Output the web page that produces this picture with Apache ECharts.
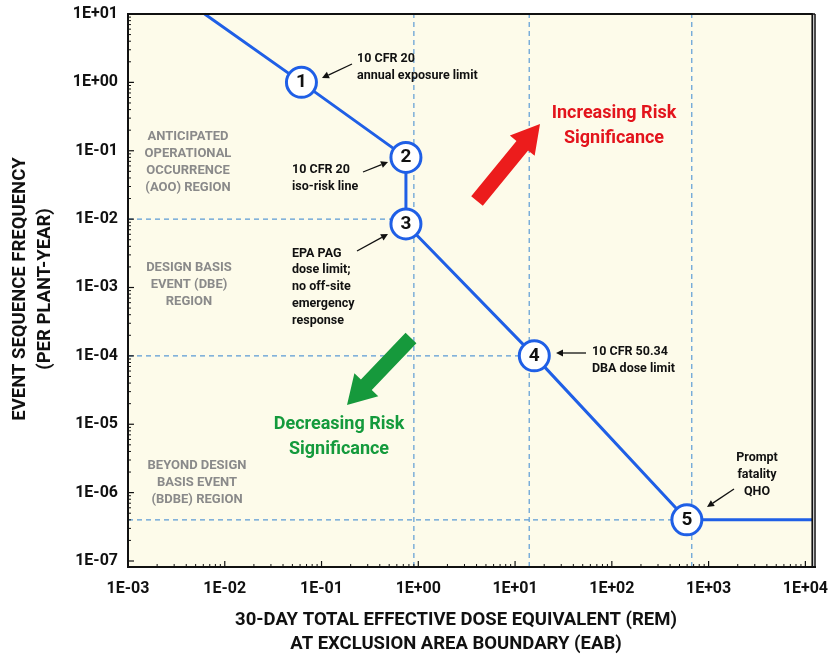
<!DOCTYPE html>
<html><head><meta charset="utf-8">
<script src="https://cdn.jsdelivr.net/npm/echarts@6/dist/echarts.min.js"></script>
<style>html,body{margin:0;padding:0;background:#fff}#c{width:831px;height:659px}</style>
</head><body><div id="c"></div>
<script>
// ---- data ----
const xTickValues = [1e-3, 1e-2, 1e-1, 1e0, 1e1, 1e2, 1e3, 1e4];
const xTickLabels = ['1E-03', '1E-02', '1E-01', '1E+00', '1E+01', '1E+02', '1E+03', '1E+04'];
const yTickValues = [1e-7, 1e-6, 1e-5, 1e-4, 1e-3, 1e-2, 1e-1, 1e0, 1e1];
const yTickLabels = ['1E-07', '1E-06', '1E-05', '1E-04', '1E-03', '1E-02', '1E-01', '1E+00', '1E+01'];
const curveX = [0.0062, 0.062, 0.745, 0.745, 15.8, 596, 11800];
const curveY = [10, 1, 0.08, 0.0085, 1e-4, 4e-7, 4e-7];
const pointNames = ['1', '2', '3', '4', '5'];
const pointX = [0.062, 0.745, 0.745, 15.8, 596];
const pointY = [1, 0.08, 0.0085, 1e-4, 4e-7];
const vGuideX = [0.9, 14, 670];
const hGuideY = [0.01, 1e-4, 4e-7];
const hGuideEndX = [0.745, 15.8, 596];

function minorValues(lo, hi) {
  const out = [];
  for (let e = lo; e < hi; e++) for (let m = 2; m <= 9; m++) out.push(m * Math.pow(10, e));
  return out;
}
const xMinor = minorValues(-3, 4);
const yMinor = minorValues(-7, 1);

const blue = '#1f5fe6';
const guideColor = '#5b9bd5';
const ink = '#111111';
const FONT = 'Roboto, "Liberation Sans", sans-serif';
const X_MIN = 1e-3, X_MAX = 11800, Y_MIN = 8.17e-8, Y_MAX = 10;
const X_PX_DEC = 97.14, Y_PX_DEC = 68.37;

const series = [];
vGuideX.forEach(x => series.push({
  type: 'line', data: [[x, Y_MIN], [x, Y_MAX]], symbol: 'none', silent: true, z: 1,
  lineStyle: { color: guideColor, width: 1.2, type: [5, 4] }
}));
hGuideY.forEach((y, i) => series.push({
  type: 'line', data: [[X_MIN, y], [hGuideEndX[i], y]], symbol: 'none', silent: true, z: 1,
  lineStyle: { color: guideColor, width: 1.2, type: [5, 4] }
}));
series.push({
  type: 'line', data: curveX.map((x, i) => [x, curveY[i]]), symbol: 'none', z: 3,
  lineStyle: { color: blue, width: 3 }
});
series.push({
  type: 'scatter', data: pointX.map((x, i) => ({ value: [x, pointY[i]], name: pointNames[i] })),
  symbol: 'circle', symbolSize: 30, z: 5,
  itemStyle: { color: '#ffffff', borderColor: blue, borderWidth: 3, opacity: 1 },
  label: { show: true, position: 'inside', formatter: p => p.name, color: ink, fontSize: 19, fontWeight: 'bold', fontFamily: FONT }
});
series.push({
  type: 'line', symbol: 'none', clip: false, z: 4,
  data: [[X_MIN, Y_MIN], [X_MAX, Y_MIN], [X_MAX, Y_MAX], [X_MIN, Y_MAX], [X_MIN, Y_MIN]],
  lineStyle: { color: ink, width: 1.8, type: 'solid' }
});
function tickLine(data, width) {
  return { type: 'line', symbol: 'none', clip: false, z: 4, data, lineStyle: { color: ink, width, type: 'solid' } };
}
xTickValues.forEach(v => series.push(tickLine([[v, Y_MIN], [v, Y_MIN * Math.pow(10, 6 / Y_PX_DEC)]], 1.2)));
xMinor.forEach(v => series.push(tickLine([[v, Y_MIN], [v, Y_MIN * Math.pow(10, 3 / Y_PX_DEC)]], 1)));
yTickValues.forEach(v => series.push(tickLine([[X_MIN, v], [X_MIN * Math.pow(10, 6 / X_PX_DEC), v]], 1.2)));
yMinor.forEach(v => series.push(tickLine([[X_MIN, v], [X_MIN * Math.pow(10, 3 / X_PX_DEC), v]], 1)));

function arrowLine(x1, y1, x2, y2, color) {
  const ang = Math.atan2(y2 - y1, x2 - x1);
  const hl = 7, hw = 3.5;
  const bx = x2 - hl * Math.cos(ang), by = y2 - hl * Math.sin(ang);
  const px = -Math.sin(ang) * hw, py = Math.cos(ang) * hw;
  return [
    { type: 'line', z: 50, shape: { x1, y1, x2: bx, y2: by }, style: { stroke: color, lineWidth: 1.3 } },
    { type: 'polygon', z: 50, shape: { points: [[x2, y2], [bx + px, by + py], [bx - px, by - py]] }, style: { fill: color } }
  ];
}
function fatArrow(x1, y1, x2, y2, sw, hw, hl, color) {
  const ang = Math.atan2(y2 - y1, x2 - x1);
  const c = Math.cos(ang), s = Math.sin(ang);
  const nx = -s, ny = c;
  const bx = x2 - hl * c, by = y2 - hl * s;
  const pts = [
    [x1 + nx * sw / 2, y1 + ny * sw / 2],
    [bx + nx * sw / 2, by + ny * sw / 2],
    [bx + nx * hw / 2, by + ny * hw / 2],
    [x2, y2],
    [bx - nx * hw / 2, by - ny * hw / 2],
    [bx - nx * sw / 2, by - ny * sw / 2],
    [x1 - nx * sw / 2, y1 - ny * sw / 2]
  ];
  return { type: 'polygon', z: 40, shape: { points: pts }, style: { fill: color } };
}
function txt(text, x, y, opt) {
  return {
    type: 'text', x, y, z: 60, rotation: opt.rot || 0,
    style: {
      text, fill: opt.color || ink, font: (opt.weight || 'bold') + ' ' + opt.size + 'px ' + FONT,
      textAlign: opt.align || 'left', textVerticalAlign: 'middle', lineHeight: opt.lh || opt.size * 1.3
    }
  };
}
function frameLine(x1, y1, x2, y2, w) {
  return { type: 'line', z: 50, shape: { x1, y1, x2, y2 }, style: { stroke: ink, lineWidth: w } };
}

const graphics = [
  frameLine(128, 14, 815, 14, 1.5),
  frameLine(815, 14, 815, 567, 1.5),
  frameLine(128, 13, 128, 568, 2),
  frameLine(127, 567, 816, 567, 2),
  txt('ANTICIPATED\nOPERATIONAL\nOCCURRENCE\n(AOO) REGION', 188, 162, { size: 13, lh: 17, align: 'center', color: '#8a8a8a' }),
  txt('DESIGN BASIS\nEVENT (DBE)\nREGION', 189, 285, { size: 13, lh: 17, align: 'center', color: '#8a8a8a' }),
  txt('BEYOND DESIGN\nBASIS EVENT\n(BDBE) REGION', 197, 483, { size: 13, lh: 17, align: 'center', color: '#8a8a8a' }),
  txt('10 CFR 20\nannual exposure limit', 357, 67, { size: 12.5, lh: 17 }),
  txt('10 CFR 20\niso-risk line', 292, 178, { size: 12.5, lh: 17 }),
  txt('EPA PAG\ndose limit;\nno off-site\nemergency\nresponse', 292, 287, { size: 12.5, lh: 16.8 }),
  txt('10 CFR 50.34\nDBA dose limit', 592, 360, { size: 12.5, lh: 17 }),
  txt('Prompt\nfatality\nQHO', 757, 475, { size: 12.5, lh: 17, align: 'center' }),
  txt('Increasing Risk\nSignificance', 614, 126, { size: 18, lh: 25, align: 'center', color: '#e3141c' }),
  txt('Decreasing Risk\nSignificance', 339, 437, { size: 18, lh: 25, align: 'center', color: '#149a3c' }),
  txt('EVENT SEQUENCE FREQUENCY\n(PER PLANT-YEAR)', 33, 289, { size: 18.5, lh: 25, align: 'center', rot: Math.PI / 2 }),
  txt('30-DAY TOTAL EFFECTIVE DOSE EQUIVALENT (REM)\nAT EXCLUSION AREA BOUNDARY (EAB)', 456, 632, { size: 18.5, lh: 24, align: 'center' }),
  fatArrow(477, 201, 540, 124, 15, 32, 28, '#ec1c1c'),
  fatArrow(411, 338, 347, 405, 15, 33, 28, '#16993c'),
  ...arrowLine(352, 64, 322, 78, ink),
  ...arrowLine(363, 172, 388, 162, ink),
  ...arrowLine(357, 251, 388, 234, ink),
  ...arrowLine(586, 353, 556, 353, ink),
  ...arrowLine(734, 489, 707, 507, ink)
];

const chart = echarts.init(document.getElementById('c'), null, { renderer: 'canvas' });
const axisLabelStyle = { color: ink, fontSize: 16, fontWeight: 'bold', fontFamily: FONT };
const fmt = (vals, labels) => v => labels[vals.findIndex(t => Math.abs(Math.log10(t) - Math.log10(v)) < 1e-6)];
chart.setOption({
  animation: false,
  grid: { left: 128, right: 16, top: 14, bottom: 92, show: true, backgroundColor: '#fdfbea', borderWidth: 0 },
  xAxis: {
    type: 'log', min: X_MIN, max: X_MAX,
    axisLine: { show: false, onZero: false },
    axisTick: { show: false },
    axisLabel: { ...axisLabelStyle, margin: 14, customValues: xTickValues, formatter: fmt(xTickValues, xTickLabels) },
    splitLine: { show: false }
  },
  yAxis: {
    type: 'log', min: Y_MIN, max: Y_MAX,
    axisLine: { show: false, onZero: false },
    axisTick: { show: false },
    axisLabel: { ...axisLabelStyle, margin: 10, customValues: yTickValues, formatter: fmt(yTickValues, yTickLabels) },
    splitLine: { show: false }
  },
  series,
  graphic: graphics
});
</script></body></html>
